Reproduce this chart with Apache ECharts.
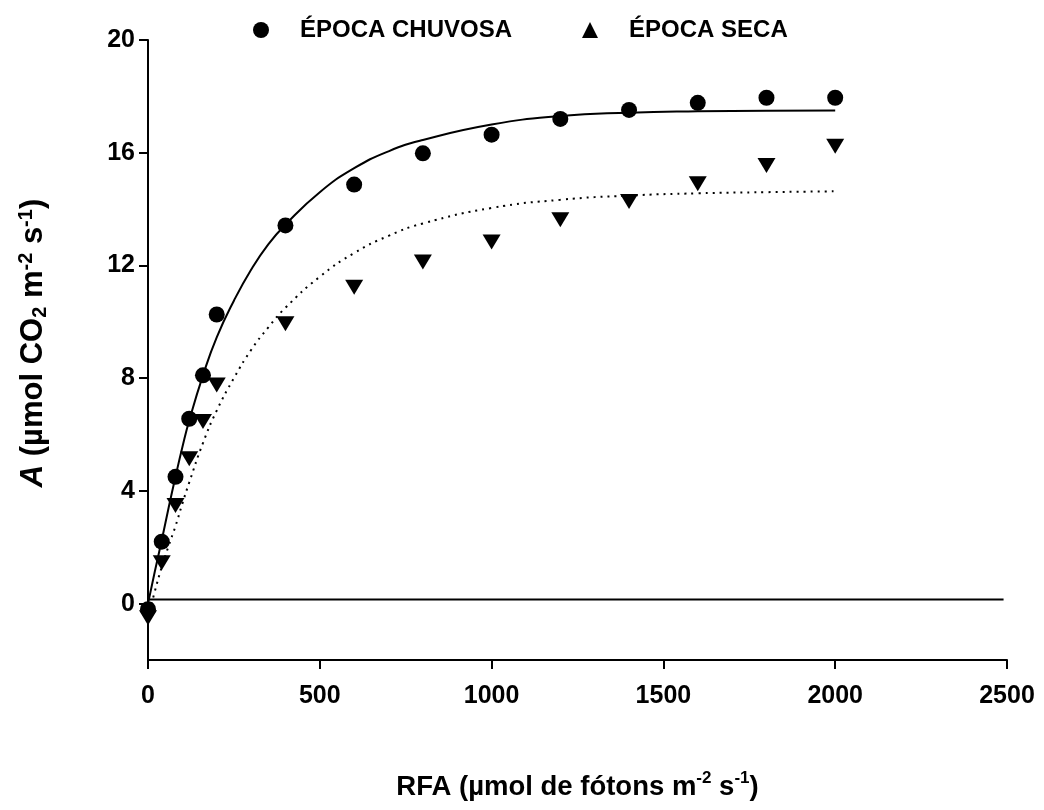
<!DOCTYPE html>
<html>
<head>
<meta charset="utf-8">
<script src="https://cdn.jsdelivr.net/npm/echarts@6/dist/echarts.min.js"></script>
<style>html,body{margin:0;padding:0;background:#fff}#c{width:1044px;height:810px}</style>
</head>
<body>
<div id="c"></div>
<script>
// ---- data ----
const parChuvosa = [0, 40, 80, 120, 160, 200, 400, 600, 800, 1000, 1200, 1400, 1600, 1800, 2000];
const aChuvosa   = [-0.2, 2.2, 4.5, 6.56, 8.1, 10.26, 13.42, 14.87, 15.98, 16.64, 17.2, 17.52, 17.77, 17.95, 17.95];
const parSeca    = [0, 40, 80, 120, 160, 200, 400, 600, 800, 1000, 1200, 1400, 1600, 1800, 2000];
const aSeca      = [-0.5, 1.45, 3.48, 5.14, 6.46, 7.76, 9.93, 11.23, 12.12, 12.83, 13.62, 14.27, 14.9, 15.55, 16.23];
// fitted curves
const fitX       = [0, 20, 40, 60, 80, 100, 120, 160, 200, 250, 300, 350, 400, 500, 600, 700, 800, 1000, 1200, 1400, 1600, 1800, 2000];
const fitChuvosa = [0, 1.15, 2.25, 3.4, 4.5, 5.55, 6.5, 8.1, 9.45, 10.75, 11.85, 12.75, 13.45, 14.6, 15.45, 16.05, 16.45, 17.0, 17.3, 17.42, 17.47, 17.49, 17.5];
const fitSeca    = [-0.5, 0.44, 1.3, 2.05, 2.75, 3.55, 4.3, 5.7, 6.85, 8.0, 9.0, 9.8, 10.5, 11.6, 12.44, 13.05, 13.49, 14.04, 14.33, 14.48, 14.56, 14.6, 14.63];
const refLine    = [[0, 0.15], [2490, 0.15]];
const xTicks     = [0, 500, 1000, 1500, 2000, 2500];
const yTicks     = [0, 4, 8, 12, 16, 20];
const seriesNames = ['ÉPOCA CHUVOSA', 'ÉPOCA SECA'];

const zip = (xs, ys) => xs.map((x, i) => [x, ys[i]]);
const FONT = '"Liberation Sans", Arial, sans-serif';
function richSet(size, small, lh) {
  return {
    n:   {fontFamily: FONT, fontWeight: 'bold', fontSize: size, color: '#000', lineHeight: lh, verticalAlign: 'middle'},
    i:   {fontFamily: FONT, fontWeight: 'bold', fontStyle: 'italic', fontSize: size, color: '#000', lineHeight: lh, verticalAlign: 'middle'},
    sup: {fontFamily: FONT, fontWeight: 'bold', fontSize: small, color: '#000', lineHeight: small, verticalAlign: 'top'},
    sub: {fontFamily: FONT, fontWeight: 'bold', fontSize: small, color: '#000', lineHeight: small, verticalAlign: 'bottom'}
  };
}

const chart = echarts.init(document.getElementById('c'), null, {renderer: 'canvas'});
chart.setOption({
  backgroundColor: '#fff',
  animation: false,
  grid: {left: 148, right: 37, top: 40, bottom: 150, containLabel: false},
  legend: {
    left: 248, top: 12,
    itemWidth: 16, itemHeight: 16, itemGap: 70,
    symbolRotate: 0,
    data: [{name: seriesNames[0], icon: 'circle'}, {name: seriesNames[1], icon: 'triangle'}],
    itemStyle: {opacity: 1},
    textStyle: {fontFamily: FONT, fontWeight: 'bold', fontSize: 24, lineHeight: 26, color: '#000', padding: [0, 0, 0, 26]}
  },
  xAxis: {
    type: 'value', min: 0, max: 2500, interval: 500,
    axisLine: {onZero: false, lineStyle: {color: '#000', width: 2}},
    axisTick: {show: true, inside: false, length: 9, lineStyle: {color: '#000', width: 2}, customValues: xTicks},
    axisLabel: {margin: 24, fontFamily: FONT, fontWeight: 'bold', fontSize: 25, color: '#000', customValues: xTicks,
                formatter: v => String(v)},
    splitLine: {show: false},
    name: '{n|RFA (µmol de fótons m}{sup|-2}{n| s}{sup|-1}{n|)}',
    nameLocation: 'middle', nameGap: 110,
    nameTextStyle: {rich: richSet(27.5, 17, 34)}
  },
  yAxis: {
    type: 'value', min: -2, max: 20, interval: 2,
    axisLine: {onZero: false, lineStyle: {color: '#000', width: 2}},
    axisTick: {show: true, inside: false, length: 9, lineStyle: {color: '#000', width: 2}, customValues: yTicks},
    axisLabel: {margin: 13, fontFamily: FONT, fontWeight: 'bold', fontSize: 25, color: '#000', customValues: yTicks,
                formatter: v => String(v)},
    splitLine: {show: false},
    name: '{i|A}{n| (µmol CO}{sub|2}{n| m}{sup|-2}{n| s}{sup|-1}{n|)}',
    nameLocation: 'middle', nameGap: 98, nameRotate: 90,
    nameTextStyle: {rich: richSet(31, 20, 34), padding: [0, 0, 0, 14]}
  },
  series: [
    {type: 'line', name: 'fit1', data: zip(fitX, fitChuvosa), smooth: true, symbol: 'none',
     lineStyle: {color: '#000', width: 2}, z: 2, silent: true},
    {type: 'line', name: 'fit2', data: zip(fitX, fitSeca), smooth: true, symbol: 'none',
     lineStyle: {color: '#000', width: 2, type: [2, 5]}, z: 2, silent: true},
    {type: 'line', name: 'ref', data: refLine, symbol: 'none',
     lineStyle: {color: '#000', width: 2}, z: 2, silent: true},
    {type: 'scatter', name: seriesNames[0], data: zip(parChuvosa, aChuvosa),
     symbol: 'circle', symbolSize: 16, itemStyle: {color: '#000', opacity: 1}, z: 3},
    {type: 'scatter', name: seriesNames[1], data: zip(parSeca, aSeca),
     symbol: 'triangle', symbolSize: [18, 15], symbolRotate: 180, itemStyle: {color: '#000', opacity: 1}, z: 3}
  ]
});
</script>
</body>
</html>
